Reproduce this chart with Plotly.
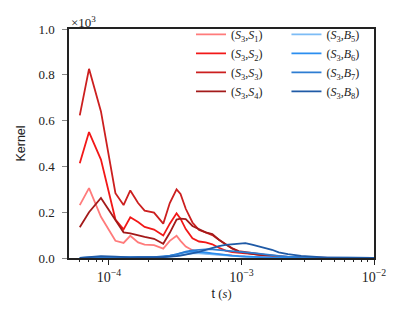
import plotly.graph_objects as go

# time grid (s)
t = [6.03e-5, 7.08e-5, 8.71e-5, 1.12e-4, 1.29e-4, 1.45e-4, 1.66e-4, 1.86e-4, 2.19e-4, 2.57e-4,
     2.88e-4, 3.24e-4, 3.47e-4, 3.80e-4, 4.27e-4, 4.79e-4, 5.37e-4, 6.03e-4, 6.76e-4, 7.59e-4,
     8.51e-4, 9.55e-4, 1.07e-3, 1.20e-3, 1.35e-3, 1.51e-3, 1.70e-3, 1.91e-3, 2.24e-3, 2.82e-3,
     3.55e-3, 4.47e-3, 6.31e-3, 1.0e-2]

s1 = [231, 305, 180, 75, 66, 97, 68, 58, 56, 41, 75, 97, 75, 50, 34, 25, 20, 17, 14, 12,
      10, 8, 6, 5, 4, 3, 2, 2, 1, 1, 0, 0, 0, 0]
s2 = [414, 550, 430, 168, 125, 178, 157, 136, 124, 98, 150, 195, 172, 126, 86, 72, 68, 60, 45, 32,
      26, 22, 20, 18, 14, 11, 8, 6, 4, 2, 1, 0, 0, 0]
s3 = [623, 826, 640, 283, 231, 295, 240, 207, 198, 150, 240, 300, 280, 215, 155, 122, 112, 100, 80, 60,
      42, 30, 25, 22, 18, 14, 11, 8, 5, 2, 1, 0, 0, 0]
s4 = [134, 200, 262, 165, 112, 108, 99, 92, 84, 62, 110, 168, 172, 170, 140, 125, 112, 105, 80, 60,
      42, 28, 22, 18, 14, 11, 8, 6, 3, 1, 0, 0, 0, 0]
b5 = [0, 1, 2, 2, 2, 2, 2, 2, 2, 3, 6, 10, 14, 18, 20, 20, 18, 15, 12, 9,
      7, 5, 4, 3, 3, 2, 2, 1, 1, 0, 0, 0, 0, 0]
b6 = [0, 1, 3, 3, 2, 2, 2, 2, 3, 5, 9, 15, 20, 26, 28, 27, 24, 20, 16, 13,
      10, 8, 6, 5, 4, 3, 2, 2, 1, 1, 0, 0, 0, 0]
b7 = [0, 2, 5, 4, 3, 3, 3, 3, 4, 6, 10, 16, 22, 28, 33, 36, 38, 38, 36, 33,
      30, 27, 25, 22, 18, 15, 12, 9, 6, 3, 2, 1, 0, 0]
b8 = [0, 3, 8, 6, 4, 3, 4, 3, 4, 4, 5, 8, 10, 14, 20, 27, 35, 44, 52, 57,
      60, 63, 65, 58, 50, 45, 36, 25, 17, 9, 5, 2, 1, 0]

# tick positions / labels
major_ticks = [1e-4, 1e-3, 1e-2]
major_labels = ["10<sup>−4</sup>", "10<sup>−3</sup>", "10<sup>−2</sup>"]
minor_ticks = [6e-5, 7e-5, 8e-5, 9e-5,
               2e-4, 3e-4, 4e-4, 5e-4, 6e-4, 7e-4, 8e-4, 9e-4,
               2e-3, 3e-3, 4e-3, 5e-3, 6e-3, 7e-3, 8e-3, 9e-3]
y_ticks = [0, 200, 400, 600, 800, 1000]
y_labels = ["0.0", "0.2", "0.4", "0.6", "0.8", "1.0"]

red_names = ["(<i>S</i><sub>3</sub>,<i>S</i><sub>1</sub>)", "(<i>S</i><sub>3</sub>,<i>S</i><sub>2</sub>)",
             "(<i>S</i><sub>3</sub>,<i>S</i><sub>3</sub>)", "(<i>S</i><sub>3</sub>,<i>S</i><sub>4</sub>)"]
blue_names = ["(<i>S</i><sub>3</sub>,<i>B</i><sub>5</sub>)", "(<i>S</i><sub>3</sub>,<i>B</i><sub>6</sub>)",
              "(<i>S</i><sub>3</sub>,<i>B</i><sub>7</sub>)", "(<i>S</i><sub>3</sub>,<i>B</i><sub>8</sub>)"]
red_colors = ["#ff7b7b", "#f21818", "#cc1f1f", "#a31a1a"]
blue_colors = ["#7dbcf5", "#2b8ef0", "#2d7dd2", "#1f5aa6"]

fig = go.Figure()
for name, ys, c in zip(red_names, [s1, s2, s3, s4], red_colors):
    fig.add_trace(go.Scatter(x=t, y=ys, mode="lines", name=name, line=dict(color=c, width=1.8),
                             legend="legend"))
for name, ys, c in zip(blue_names, [b5, b6, b7, b8], blue_colors):
    fig.add_trace(go.Scatter(x=t, y=ys, mode="lines", name=name, line=dict(color=c, width=1.8),
                             legend="legend2"))
# empty helper trace so the minor-tick axis is drawn
fig.add_trace(go.Scatter(x=[], y=[], xaxis="x2", yaxis="y", showlegend=False, hoverinfo="skip"))

serif = "Liberation Serif"
leg_common = dict(bgcolor="rgba(0,0,0,0)", borderwidth=0, font=dict(family=serif, size=12, color="#222"),
                  tracegroupgap=0, itemwidth=30, yanchor="top", y=1.04, xanchor="left")
xrange = [-4.30103, -2]

# page body has an 8px margin, so the figure is offset by (8, 8)
fig.update_layout(
    width=390, height=308,
    margin=dict(l=54, r=24, t=16, b=58),
    paper_bgcolor="white", plot_bgcolor="white",
    legend=dict(x=0.40, **leg_common),
    legend2=dict(x=0.713, **leg_common),
    xaxis=dict(type="log", range=xrange, tickmode="array", tickvals=major_ticks, ticktext=major_labels,
               showline=True, linecolor="#222", linewidth=1.5, mirror=True,
               ticks="outside", ticklen=5, tickcolor="#222", showgrid=False, zeroline=False,
               tickfont=dict(family=serif, size=14, color="#222"),
               title=dict(text="t <span style='font-family:Liberation Serif'>(<i>s</i>)</span>",
                          font=dict(family="Liberation Sans", size=12.5, color="#222"), standoff=6)),
    xaxis2=dict(type="log", range=xrange, overlaying="x", side="bottom", anchor="y",
                tickmode="array", tickvals=minor_ticks, showticklabels=False,
                ticks="outside", ticklen=3, tickcolor="#222", showgrid=False, zeroline=False,
                showline=False),
    yaxis=dict(range=[0, 1000], tickvals=y_ticks, ticktext=y_labels,
               showline=True, linecolor="#222", linewidth=1.5, mirror=True,
               ticks="outside", ticklen=5, tickcolor="#888", showgrid=False, zeroline=False,
               ticklabelstandoff=5,
               tickfont=dict(family=serif, size=13, color="#222"),
               title=dict(text="Kernel", font=dict(family="Liberation Sans", size=12.5, color="#222"),
                          standoff=10)),
    annotations=[dict(text="×10<sup>3</sup>", xref="paper", yref="paper", x=0.0, y=1.0,
                      xanchor="left", yanchor="bottom", yshift=-3, showarrow=False,
                      font=dict(family=serif, size=13, color="#222"))],
)

fig.write_html("out.html")
